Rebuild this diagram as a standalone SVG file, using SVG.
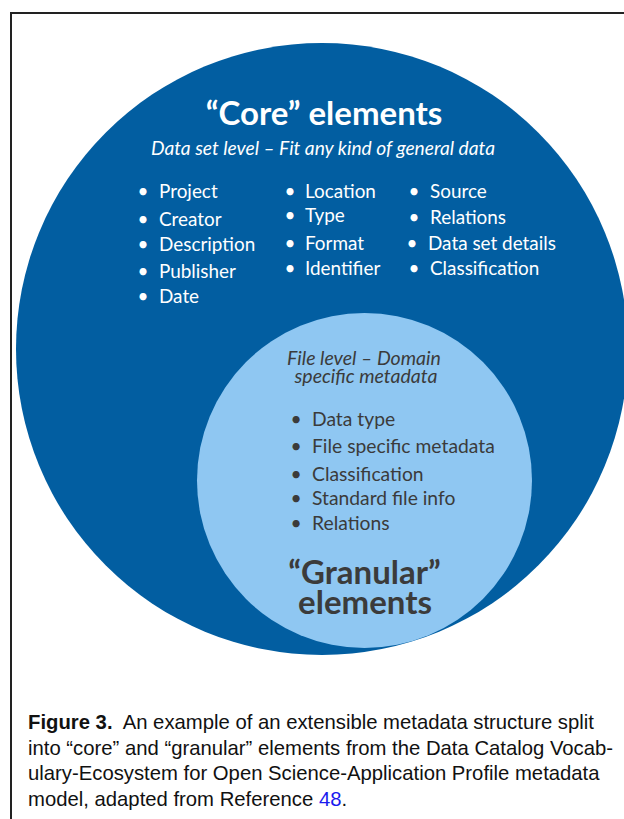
<svg xmlns="http://www.w3.org/2000/svg" width="624" height="819" viewBox="0 0 624 819">
<style>
.w{fill:#ffffff;font-family:Lato,"Open Sans",sans-serif}
.g{fill:#3b3b3b;font-family:Lato,"Open Sans",sans-serif}
.title{font-weight:700;font-size:33px}
.sub{font-style:italic;font-size:19.2px}
.isub{font-style:italic;font-size:19.5px}
.item{font-size:18.9px}
.iitem{font-size:19.3px}
.cap{font-family:"Liberation Sans",Arial,sans-serif;font-size:20.3px;fill:#111111}
</style>
<rect x="11" y="13" width="640" height="840" fill="#ffffff" stroke="#222222" stroke-width="2"/>
<g id="core">
<circle cx="322" cy="349" r="306" fill="#025ea1"/>
<text class="w title" x="324" y="125" text-anchor="middle">“Core” elements</text>
<text class="w sub" x="323" y="155" text-anchor="middle">Data set level – Fit any kind of general data</text>
<g class="w item">
<text x="143" y="198" text-anchor="middle">•</text><text x="159" y="198">Project</text>
<text x="143" y="225.5" text-anchor="middle">•</text><text x="159" y="225.5">Creator</text>
<text x="143" y="251" text-anchor="middle">•</text><text x="159" y="251">Description</text>
<text x="143" y="278" text-anchor="middle">•</text><text x="159" y="278">Publisher</text>
<text x="143" y="302.5" text-anchor="middle">•</text><text x="159" y="302.5">Date</text>
<text x="290" y="198" text-anchor="middle">•</text><text x="305" y="198">Location</text>
<text x="290" y="222" text-anchor="middle">•</text><text x="305" y="222">Type</text>
<text x="290" y="250" text-anchor="middle">•</text><text x="305" y="250">Format</text>
<text x="290" y="275" text-anchor="middle">•</text><text x="305" y="275">Identifier</text>
<text x="414" y="198" text-anchor="middle">•</text><text x="430" y="198">Source</text>
<text x="414" y="223.5" text-anchor="middle">•</text><text x="430" y="223.5">Relations</text>
<text x="412" y="249.5" text-anchor="middle">•</text><text x="428" y="249.5">Data set details</text>
<text x="414" y="275" text-anchor="middle">•</text><text x="430" y="275">Classification</text>
</g>
</g>
<g id="granular">
<circle cx="364.5" cy="480.5" r="167.5" fill="#8fc7f2"/>
<text class="g isub" x="364" y="364.5" text-anchor="middle">File level – Domain</text>
<text class="g isub" x="366" y="383" text-anchor="middle">specific metadata</text>
<g class="g iitem">
<text x="296" y="425.5" text-anchor="middle">•</text><text x="312" y="425.5">Data type</text>
<text x="296" y="453" text-anchor="middle">•</text><text x="312" y="453">File specific metadata</text>
<text x="296" y="480.5" text-anchor="middle">•</text><text x="312" y="480.5">Classification</text>
<text x="296" y="505" text-anchor="middle">•</text><text x="312" y="505">Standard file info</text>
<text x="296" y="529.5" text-anchor="middle">•</text><text x="312" y="529.5">Relations</text>
</g>
<text class="g title" x="364.5" y="584" text-anchor="middle">“Granular”</text>
<text class="g title" x="365" y="614" text-anchor="middle">elements</text>
</g>
<g id="connectors"></g>
<g id="caption" class="cap">
<text x="28" y="729" xml:space="preserve"><tspan font-weight="700">Figure 3.</tspan>  An example of an extensible metadata structure split</text>
<text x="28" y="754.5">into “core” and “granular” elements from the Data Catalog Vocab-</text>
<text x="28" y="780">ulary-Ecosystem for Open Science-Application Profile metadata</text>
<text x="28" y="805.5">model, adapted from Reference <tspan fill="#1a1aee">48</tspan>.</text>
</g>
</svg>
